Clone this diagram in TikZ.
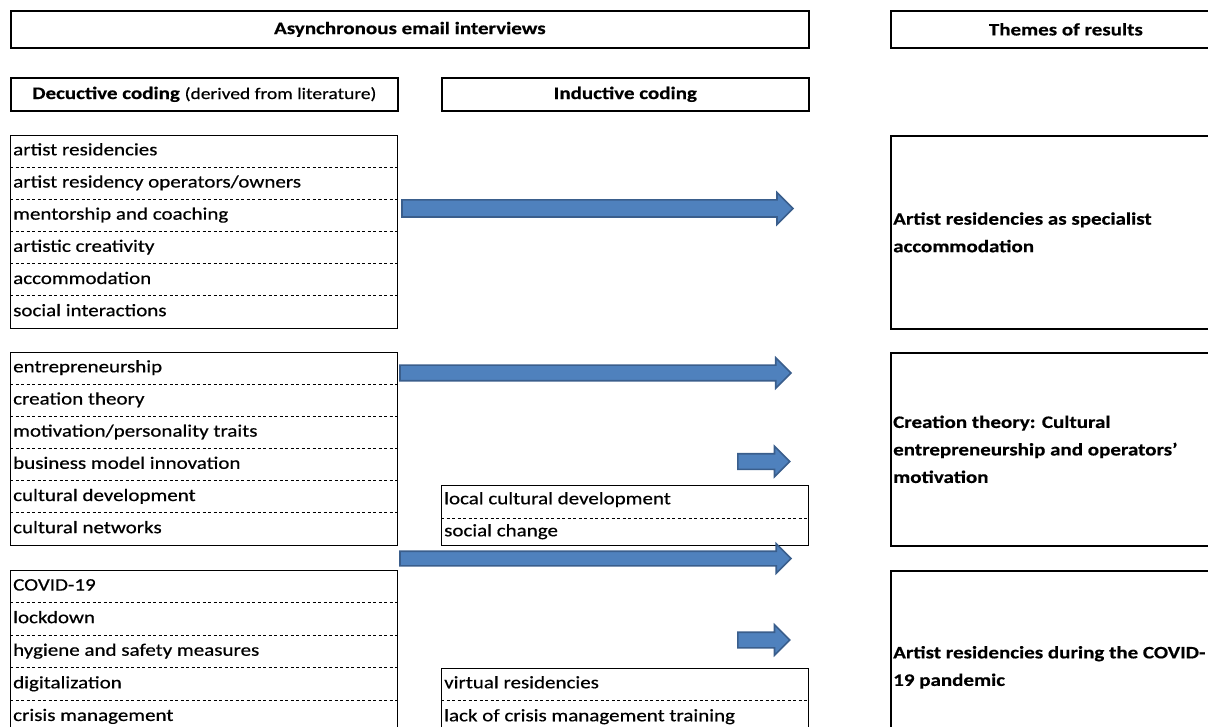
\documentclass[tikz,border=0pt]{standalone}
\usepackage{fontspec}
\setmainfont{Carlito}[FakeStretch=1.2, FakeBold=0.5]
\usepackage{xcolor}
\usepackage{tikz}
\usetikzlibrary{positioning, shapes.arrows}
\definecolor{arrowfill}{RGB}{79, 129, 189}
\definecolor{arrowline}{RGB}{58, 94, 140}

\begin{document}
\begin{tikzpicture}[x=1pt, y=-1pt,
    font=\fontsize{17.5}{20}\selectfont,
    headbox/.style={draw, line width=1.7pt, inner sep=0pt, anchor=north west, font=\fontsize{17.5}{20}\selectfont\bfseries},
    listbox/.style={draw, line width=1.2pt, inner sep=0pt, anchor=north west},
    item/.style={anchor=west, inner sep=0pt, text height=13pt, text depth=4.5pt},
    divider/.style={line width=0.9pt, dash pattern=on 3pt off 2.5pt},
    themetext/.style={anchor=west, inner sep=0pt, align=left, font=\fontsize{17.5}{27.5}\selectfont\bfseries},
    bigarrow/.style={single arrow, draw=arrowline, fill=arrowfill, line width=1.6pt, inner xsep=0pt, inner ysep=7pt,
        single arrow head extend=7.5pt, anchor=west}]
    \useasboundingbox (0,0) rectangle (1208,727);
    \clip (0,0) rectangle (1208,727);

    % column headers
    \node[headbox, minimum width=798pt, minimum height=37pt] (interviews) at (10,10) {Asynchronous email interviews};
    \node[headbox, minimum width=350pt, minimum height=37pt] (themes) at (890,10) {Themes of results};
    \node[headbox, minimum width=387pt, minimum height=33pt] (deductive) at (10,77)
        {Decuctive coding {\fontsize{16.2}{20}\selectfont\mdseries(derived from literature)}};
    \node[headbox, minimum width=367pt, minimum height=33pt] (inductive) at (441,77) {Inductive coding};

    % deductive codes, three groups
    \node[listbox, minimum width=387pt, minimum height=193pt] (g1) at (10,135) {};
    \foreach \txt [count=\i] in {artist residencies, artist residency operators/owners, mentorship and coaching,
        artistic creativity, accommodation, social interactions}
        \node[item] (g1-\i) at ([xshift=3pt, yshift={-(\i-0.5)*32.17pt}]g1.north west) {\txt};
    \foreach \i in {1,...,5}
        \draw[divider] ([yshift={-\i*32.17pt}]g1.north west) -- ([yshift={-\i*32.17pt}]g1.north east);

    \node[listbox, minimum width=387pt, minimum height=193pt] (g2) at (10,352) {};
    \foreach \txt [count=\i] in {entrepreneurship, creation theory, motivation/personality traits,
        business model innovation, cultural development, cultural networks}
        \node[item] (g2-\i) at ([xshift=3pt, yshift={-(\i-0.5)*32.17pt}]g2.north west) {\txt};
    \foreach \i in {1,...,5}
        \draw[divider] ([yshift={-\i*32.17pt}]g2.north west) -- ([yshift={-\i*32.17pt}]g2.north east);

    \node[listbox, minimum width=387pt, minimum height=193pt] (g3) at (10,570) {};
    \foreach \txt [count=\i] in {COVID-19, lockdown, hygiene and safety measures, digitalization, crisis management}
        \node[item] (g3-\i) at ([xshift=3pt, yshift={-(\i-0.5)*32.6pt}]g3.north west) {\txt};
    \foreach \i in {1,...,4}
        \draw[divider] ([yshift={-\i*32.6pt}]g3.north west) -- ([yshift={-\i*32.6pt}]g3.north east);

    % inductive codes
    \node[listbox, line width=1pt, minimum width=367pt, minimum height=60pt] (i1) at (441,485) {};
    \node[item] (i1-1) at ([xshift=3pt, yshift=-15pt]i1.north west) {local cultural development};
    \node[item] (i1-2) at ([xshift=3pt, yshift=-47pt]i1.north west) {social change};
    \draw[divider] ([yshift=-33pt]i1.north west) -- ([yshift=-33pt]i1.north east);

    \node[listbox, line width=1pt, minimum width=367pt, minimum height=90pt] (i2) at (441,668) {};
    \node[item] (i2-1) at ([xshift=3pt, yshift=-16pt]i2.north west) {virtual residencies};
    \node[item] (i2-2) at ([xshift=3pt, yshift=-49pt]i2.north west) {lack of crisis management training};
    \draw[divider] ([yshift=-32pt]i2.north west) -- ([yshift=-32pt]i2.north east);

    % themes
    \node[listbox, line width=1.7pt, minimum width=350pt, minimum height=193pt] (t1) at (890,135) {};
    \node[themetext] (t1-text) at ([xshift=3pt]t1.west) {Artist residencies as specialist\\accommodation};
    \node[listbox, line width=1.7pt, minimum width=350pt, minimum height=193pt] (t2) at (890,352) {};
    \node[themetext] (t2-text) at ([xshift=3pt]t2.west) {Creation theory: Cultural\\entrepreneurship and operators'\\motivation};
    \node[listbox, line width=1.7pt, minimum width=350pt, minimum height=193pt] (t3) at (890,570) {};
    \node[themetext] (t3-text) at ([xshift=3pt]t3.west) {Artist residencies during the COVID-\\19 pandemic};

    % arrows towards the themes
    \node[bigarrow, inner ysep=7.75pt, minimum height=391pt] (a1) at ([xshift=3pt]g1.east |- 0,208.5) {};
    \node[bigarrow, minimum height=391pt] (a2) at ([xshift=1pt]g2.east |- 0,373) {};
    \node[bigarrow, minimum height=52pt] (a3) at (737,461.5) {};
    \node[bigarrow, inner ysep=6.5pt, minimum height=391pt] (a4) at ([xshift=1pt]g2.east |- 0,558.5) {};
    \node[bigarrow, minimum height=52pt] (a5) at (737,640) {};
\end{tikzpicture}
\end{document}
